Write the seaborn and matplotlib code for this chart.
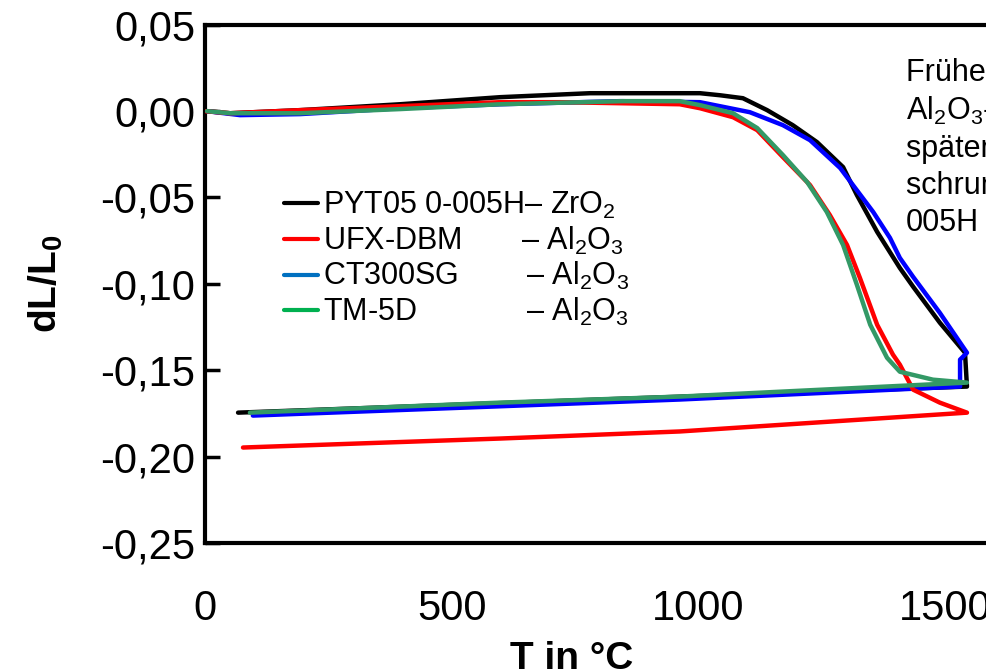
import numpy as np
import pandas as pd
import seaborn as sns
import matplotlib.pyplot as plt
from matplotlib.ticker import FuncFormatter

# heating + cooling curves (T in degC, dL/L0)
pyt05_T = [4, 51, 193, 395, 598, 780, 1003, 1044, 1090, 1139, 1191, 1240, 1293, 1321, 1362,
           1408, 1435, 1489, 1540, 1544, 800, 67]
pyt05_dL = [0.0, -0.0012, 0.0006, 0.004, 0.0081, 0.0104, 0.0104, 0.0092, 0.0075, 0.0006,
            -0.0081, -0.0179, -0.0324, -0.0486, -0.0699, -0.0908, -0.1017, -0.1225, -0.1399,
            -0.1595, -0.167, -0.1746]

ct300_T = [4, 71, 193, 395, 598, 841, 1003, 1104, 1171, 1226, 1287, 1313, 1354, 1388, 1408,
           1435, 1489, 1544, 1530, 1530, 962, 97]
ct300_dL = [0.0, -0.0023, -0.0017, 0.0017, 0.004, 0.0058, 0.0052, -0.0006, -0.0081, -0.0168,
            -0.0329, -0.0428, -0.0584, -0.0734, -0.085, -0.096, -0.1168, -0.1399, -0.1439,
            -0.1595, -0.167, -0.1763]

ufx_T = [0, 51, 193, 395, 598, 719, 962, 1003, 1070, 1119, 1171, 1226, 1266, 1301, 1327, 1362,
         1394, 1408, 1435, 1489, 1544, 962, 598, 77]
ufx_dL = [0.0, -0.0012, 0.0006, 0.0029, 0.0052, 0.0052, 0.004, 0.0017, -0.0035, -0.011,
          -0.0266, -0.0428, -0.0601, -0.0775, -0.0965, -0.1237, -0.141, -0.1468, -0.1613,
          -0.1688, -0.1746, -0.1855, -0.1896, -0.1948]

tm5d_T = [4, 51, 193, 395, 598, 847, 962, 1003, 1070, 1119, 1171, 1220, 1260, 1293, 1321, 1348,
          1382, 1408, 1475, 1544, 962, 598, 91]
tm5d_dL = [0.0, -0.0012, -0.0012, 0.0012, 0.004, 0.0058, 0.0058, 0.0035, -0.0012, -0.0098,
           -0.0254, -0.041, -0.0584, -0.0775, -0.1006, -0.1237, -0.1428, -0.1509, -0.1555,
           -0.1572, -0.1653, -0.1688, -0.1746]

series_labels = [
    "PYT05 0-005H\u2013 ZrO$_2$",
    "UFX-DBM       \u2013 Al$_2$O$_3$",
    "CT300SG        \u2013 Al$_2$O$_3$",
    "TM-5D             \u2013 Al$_2$O$_3$",
]
y_ticks = [0.05, 0.0, -0.05, -0.10, -0.15, -0.20, -0.25]
x_ticks = [0, 500, 1000, 1500, 2000]

note_lines = ["Frühere Sinterung der", "Al$_2$O$_3$-Pulver,", "spätere Sinterung und",
              "schrumpfung von PYT05 0-", "005H"]

sns.set_style("white")
plt.rcParams['font.family'] = ['Liberation Sans', 'DejaVu Sans']
plt.rcParams['mathtext.fontset'] = 'custom'
plt.rcParams['mathtext.rm'] = 'Liberation Sans'
plt.rcParams['mathtext.it'] = 'Liberation Sans'
plt.rcParams['mathtext.bf'] = 'Liberation Sans:bold'
for k in ['text.color', 'axes.labelcolor', 'xtick.color', 'ytick.color']:
    plt.rcParams[k] = 'black'

fig = plt.figure(figsize=(9.87, 6.71), dpi=100)
ax = fig.add_axes([0.2077, 0.191, 1.0, 0.772])

# draw order: black, blue, red, green on top
curves = [
    (pyt05_T, pyt05_dL, "black", series_labels[0], 2),
    (ufx_T, ufx_dL, "#ff0000", series_labels[1], 4),
    (ct300_T, ct300_dL, "#0000ff", series_labels[2], 3),
    (tm5d_T, tm5d_dL, "#339966", series_labels[3], 5),
]
for T, dL, col, lab, z in curves:
    sns.lineplot(x=T, y=dL, sort=False, estimator=None, color=col, lw=3.2,
                 label=lab, zorder=z, ax=ax)

ax.set_xlim(0, 2000)
ax.set_ylim(-0.25, 0.05)
ax.set_xticks(x_ticks)
ax.set_yticks(y_ticks)
ax.yaxis.set_major_formatter(FuncFormatter(lambda v, p: f"{v:.2f}".replace('.', ',')))
ax.tick_params(axis='y', direction='in', length=11, width=2.5, pad=7, labelsize=30, left=True)
ax.tick_params(axis='x', length=0, pad=33, labelsize=30)
for sp in ax.spines.values():
    sp.set_linewidth(3)
    sp.set_color('black')

ax.set_xlabel("T in °C", fontsize=28, fontweight='bold')
ax.xaxis.set_label_coords(0.371, -0.19)
ax.set_ylabel(r"dL/L$_\mathbf{0}$", fontsize=28, fontweight='bold')
ax.yaxis.set_label_coords(-0.142, 0.5)

leg = ax.legend(loc='upper left', bbox_to_anchor=(0.068, 0.705), frameon=False,
                fontsize=22, handlelength=1.1, handletextpad=0.15, labelspacing=0.12,
                borderaxespad=0)
for h, c in zip(leg.legend_handles, ["black", "#ff0000", "#0070c0", "#00b050"]):
    h.set_color(c)
    h.set_linewidth(3)

ax.text(1420, 0.031, "\n".join(note_lines), fontsize=22, va='top', ha='left',
        linespacing=1.3)

fig.savefig("out.png", dpi=100)
